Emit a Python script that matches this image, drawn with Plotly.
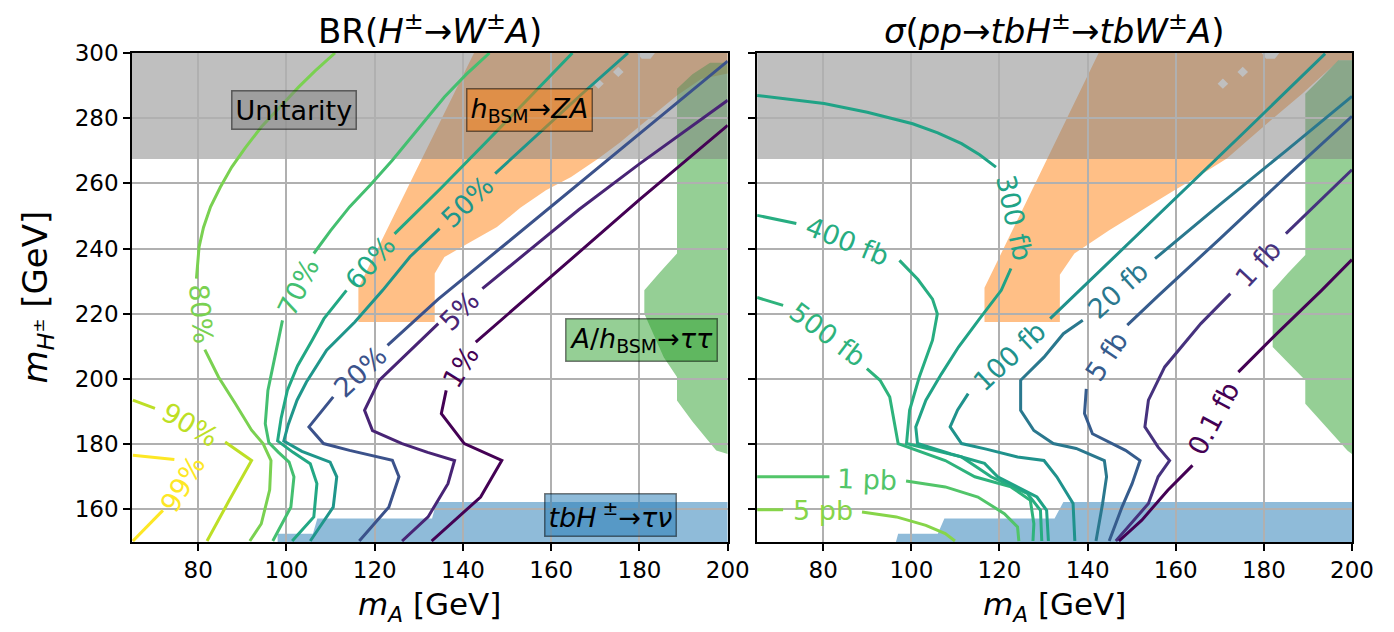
import plotly.graph_objects as go

# ---------------- axes ----------------
X_RANGE = [65, 200]
Y_RANGE = [150, 300]
x_tick_vals = [80, 100, 120, 140, 160, 180, 200]
y_tick_vals = [160, 180, 200, 220, 240, 260, 280, 300]

# ---------------- left panel: BR(H± -> W± A) contours (m_A, m_H±) ----------------
# each contour = two pieces (split where the inline label sits)
br99_a = [(65.2, 150.3), (68.6, 155.0), (72.0, 159.7)]
br99_b = [(74.6, 175.3), (70.0, 176.0), (65.2, 176.6)]

br90_a = [(65.2, 193.5), (70.2, 191.0)]
br90_b = [(86.1, 180.7), (92.1, 175.0), (87.0, 162.7), (82.0, 150.3)]

br80_a = [(111.0, 300.0), (106.5, 294.5), (102.8, 289.6), (98.5, 283.5), (94.3, 277.3), (90.7, 271.0),
          (87.6, 265.0), (85.0, 258.8), (82.8, 252.8), (81.2, 246.5), (80.2, 240.5), (79.6, 230.8)]
br80_b = [(81.5, 209.0), (84.6, 200.6), (88.4, 192.5), (92.1, 184.3), (94.7, 180.2), (96.5, 175.0),
          (96.2, 166.0), (94.3, 155.6), (91.7, 150.3)]

br70_a = [(146.0, 300.0), (140.8, 293.5), (135.8, 286.5), (130.0, 277.0), (124.0, 267.1), (119.0, 259.5),
          (114.3, 252.8), (110.0, 245.5), (106.2, 238.5)]
br70_b = [(99.1, 218.0), (97.3, 206.7), (95.8, 196.5), (95.2, 186.3), (96.0, 180.5), (98.2, 177.5),
          (100.6, 174.5), (101.7, 170.0), (101.0, 160.7), (96.9, 150.3)]

br60_a = [(124.5, 244.5), (135.0, 258.5), (145.0, 272.3), (155.0, 286.2), (164.8, 300.0)]
br60_b = [(113.6, 227.2), (108.5, 218.5), (105.8, 211.8), (102.5, 204.0), (100.2, 196.5), (98.8, 188.0),
          (98.0, 181.0), (101.5, 177.5), (105.4, 174.0), (106.9, 167.9), (106.2, 157.7), (101.3, 150.3)]

br50_a = [(147.3, 263.0), (157.0, 275.0), (167.0, 287.5), (177.4, 300.0)]
br50_b = [(134.7, 246.1), (128.0, 237.5), (121.8, 227.2), (115.5, 217.5), (109.1, 208.8), (104.5, 199.0),
          (102.4, 193.5), (100.4, 186.0), (99.4, 181.0), (103.5, 177.8), (109.9, 174.5), (111.4, 170.0),
          (110.6, 160.7), (105.4, 150.3)]

br20_a = [(122.9, 210.3), (134.4, 224.5), (150.0, 241.8), (165.0, 258.5), (181.0, 276.3), (200.0, 297.5)]
br20_b = [(110.6, 194.5), (105.1, 185.3), (108.4, 180.2), (114.3, 178.1), (124.0, 175.1), (125.5, 170.0),
          (123.2, 160.7), (116.5, 150.3)]

br5_a = [(144.4, 227.7), (155.0, 239.5), (166.3, 252.0), (180.0, 266.0), (200.0, 285.5)]
br5_b = [(134.4, 217.0), (127.5, 208.0), (121.0, 199.6), (117.7, 190.4), (119.5, 184.2), (126.2, 180.2),
         (132.0, 177.5), (138.1, 175.0), (136.6, 167.9), (132.1, 157.7), (126.2, 150.3)]

br1_a = [(142.9, 211.3), (153.7, 224.1), (165.0, 237.5), (180.0, 255.0), (200.0, 277.8)]
br1_b = [(136.2, 196.5), (135.1, 189.4), (140.3, 180.2), (148.8, 175.0), (144.0, 163.8), (132.9, 150.3)]

br_levels = ["99%", "90%", "80%", "70%", "60%", "50%", "20%", "5%", "1%"]
br_pieces = [(br99_a, br99_b), (br90_a, br90_b), (br80_a, br80_b), (br70_a, br70_b), (br60_a, br60_b),
             (br50_a, br50_b), (br20_a, br20_b), (br5_a, br5_b), (br1_a, br1_b)]
# inline label anchor on the contour (m_A, m_H±) and text rotation
br_label_at = [(76.6, 167.8, -59), (78.1, 185.9, 30), (80.6, 220.0, 85), (102.6, 228.2, -64),
               (119.0, 235.8, -49), (141.0, 254.5, -44), (116.7, 202.4, -43), (139.2, 221.0, -45),
               (139.5, 203.9, -58)]

# ---------------- right panel: sigma(pp -> tbH± -> tbW± A) contours ----------------
xs5pb_a = [(65.0, 159.9), (70.9, 159.9)]
xs5pb_b = [(88.8, 159.2), (96.6, 157.7), (103.3, 155.1), (107.7, 152.6), (109.9, 150.3)]

xs1pb_a = [(65.0, 170.0), (81.4, 170.0)]
xs1pb_b = [(98.8, 168.7), (107.7, 166.9), (115.1, 163.8), (121.1, 158.7), (124.1, 154.6), (124.4, 150.3)]

xs500_a = [(65.0, 225.0), (70.9, 222.6)]
xs500_b = [(89.9, 203.2), (92.9, 199.6), (95.1, 194.5), (96.2, 186.3), (97.0, 180.2), (107.7, 175.0),
           (114.4, 170.0), (122.6, 166.9), (127.0, 162.8), (127.8, 155.6), (127.6, 150.3)]

xs400_a = [(65.0, 250.2), (73.9, 247.7)]
xs400_b = [(97.3, 236.4), (101.5, 230.5), (104.8, 224.5), (105.9, 220.0), (104.8, 211.9), (101.8, 200.6),
           (99.6, 190.4), (98.9, 180.2), (111.4, 176.1), (118.1, 170.0), (126.3, 164.9), (129.3, 159.7),
           (129.6, 150.3)]

xs300_a = [(65.0, 287.0), (80.2, 284.5), (90.0, 281.8), (100.3, 278.3), (106.0, 275.5), (111.4, 272.2),
           (115.5, 268.8), (119.2, 265.0)]
xs300_b = [(122.6, 233.9), (121.5, 230.5), (120.4, 227.2), (115.5, 218.5), (110.7, 209.8), (106.8, 201.5),
           (103.3, 193.5), (101.0, 185.3), (101.4, 180.2), (109.0, 177.0), (116.6, 174.1), (119.6, 170.0),
           (128.5, 163.8), (130.7, 159.7), (131.1, 150.3)]

xs100_a = [(131.5, 218.5), (145.0, 236.0), (160.0, 255.5), (175.0, 275.0), (193.9, 299.8)]
xs100_b = [(112.9, 195.5), (110.5, 190.5), (108.8, 185.3), (111.4, 180.2), (117.0, 178.5), (124.1, 176.1),
           (130.1, 175.0), (133.0, 170.0), (136.7, 161.8), (137.1, 150.3)]

xs20_a = [(155.3, 236.9), (170.0, 253.5), (185.0, 270.0), (200.0, 286.7)]
xs20_b = [(138.9, 218.0), (134.5, 213.9), (130.1, 206.7), (124.8, 199.6), (124.8, 190.4), (127.8, 184.2),
          (132.2, 180.2), (137.4, 178.7), (143.8, 175.0), (144.3, 170.0), (143.4, 161.8), (141.9, 150.3)]

xs5_a = [(149.0, 216.5), (156.0, 225.5), (170.0, 243.0), (185.0, 262.0), (200.0, 280.6)]
xs5_b = [(139.7, 197.0), (139.3, 189.4), (141.1, 183.2), (148.6, 178.1), (151.9, 175.0), (150.1, 167.9),
         (147.8, 160.7), (144.9, 150.3)]

xs1_a = [(185.0, 244.6), (192.0, 253.8), (200.0, 264.2)]
xs1_b = [(172.4, 226.2), (165.7, 217.0), (157.5, 203.7), (153.8, 193.5), (153.0, 185.3), (156.0, 179.1),
         (158.6, 175.0), (156.0, 170.0), (153.8, 161.8), (148.6, 153.6), (146.4, 150.3)]

xs01_a = [(174.2, 202.1), (183.0, 214.0), (193.1, 227.2), (200.0, 236.6)]
xs01_b = [(163.8, 173.5), (158.2, 165.9), (152.3, 156.7), (147.1, 150.3)]

xs_levels = ["5 pb", "1 pb", "500 fb", "400 fb", "300 fb", "100 fb", "20 fb", "5 fb", "1 fb", "0.1 fb"]
xs_pieces = [(xs5pb_a, xs5pb_b), (xs1pb_a, xs1pb_b), (xs500_a, xs500_b), (xs400_a, xs400_b),
             (xs300_a, xs300_b), (xs100_a, xs100_b), (xs20_a, xs20_b), (xs5_a, xs5_b), (xs1_a, xs1_b),
             (xs01_a, xs01_b)]
xs_label_at = [(79.9, 159.6, 0), (90.0, 169.2, 2), (81.0, 213.5, 37), (85.6, 242.2, 22), (123.3, 249.5, 78),
               (122.2, 207.0, -43), (147.0, 227.5, -42), (144.3, 206.8, -56), (178.7, 235.4, -47),
               (168.5, 188.0, -62)]

# ---------------- excluded regions (m_A, m_H±) ----------------
unitarity_min_mH = 267.5

zA_left = [(116.3, 217.5), (133.6, 217.5), (133.6, 232.4), (135.8, 237.4), (141.0, 241.5), (147.7, 246.6),
           (153.0, 252.5), (158.8, 257.9), (164.5, 262.0), (170.7, 267.6), (175.5, 272.5), (180.0, 277.5),
           (184.5, 282.5), (188.5, 287.0), (194.0, 292.0), (200.0, 293.7), (200.0, 300.0), (142.5, 300.0),
           (116.3, 228.0)]
zA_right = [(116.6, 217.5), (133.7, 217.5), (133.7, 232.0), (137.0, 238.5), (144.9, 245.6), (152.0, 251.5),
            (159.7, 257.9), (165.5, 262.5), (171.6, 267.6), (177.0, 274.0), (183.0, 281.0), (188.7, 287.5),
            (195.4, 295.7), (197.0, 297.8), (200.0, 297.8), (200.0, 300.0), (142.5, 300.0), (116.6, 228.0)]
zA_holes = [[(175.2, 295.8), (176.4, 294.2), (175.2, 292.6), (174.0, 294.2)],
            [(170.7, 292.2), (171.9, 290.6), (170.7, 289.0), (169.5, 290.6)],
            [(179.5, 300.0), (183.5, 300.0), (182.5, 298.2), (180.5, 298.2)]]

tautau_left = [(188.5, 289.0), (192.0, 293.5), (196.0, 297.0), (200.0, 297.0), (200.0, 177.0), (197.4, 178.1),
               (192.0, 187.0), (188.5, 193.4), (188.5, 200.6), (185.5, 206.7), (181.1, 220.0), (181.1, 227.2),
               (184.5, 232.5), (188.5, 238.5)]
tautau_right = [(189.4, 287.5), (193.2, 292.6), (196.9, 297.8), (200.0, 297.8), (200.0, 177.0), (199.0, 178.0),
                (194.0, 185.5), (189.4, 192.4), (189.4, 199.6), (185.5, 205.0), (182.0, 209.8), (182.0, 227.2),
                (185.5, 232.5), (189.4, 238.0)]

taunu_left = [(98.0, 150.0), (98.0, 152.5), (106.0, 152.5), (107.0, 157.2), (133.0, 157.2), (134.0, 162.3),
              (200.0, 162.3), (200.0, 150.0)]
taunu_right = [(96.5, 150.0), (97.0, 152.5), (106.0, 152.5), (107.5, 157.2), (132.5, 157.2), (134.5, 162.3),
               (200.0, 162.3), (200.0, 150.0)]

# ---------------- text ----------------
title_left = "BR(<i>H</i><sup>±</sup>→<i>W</i><sup>±</sup><i>A</i>)"
title_right = "<i>σ</i>(<i>pp</i>→<i>tbH</i><sup>±</sup>→<i>tbW</i><sup>±</sup><i>A</i>)"
xlabel = "<i>m<sub>A</sub></i> [GeV]"
ylabel = "<i>m<sub>H<sup>±</sup></sub></i> [GeV]"
box_texts = ["Unitarity", "<i>h</i><sub>BSM</sub>→<i>ZA</i>", "<i>A</i>/<i>h</i><sub>BSM</sub>→<i>ττ</i>",
             "<i>tbH</i><sup> ±</sup>→<i>τν</i>"]
box_at = [(101.8, 282.4), (155.0, 282.4), (180.4, 211.9), (173.4, 158.4)]

# ---------------- styles ----------------
FONT = "DejaVu Sans"
br_colors = ["#fde725", "#bddf26", "#7ad151", "#44bf70", "#22a884", "#1f968b", "#3b528b", "#482475", "#440154"]
xs_colors = ["#86d549", "#52c569", "#2eb37c", "#27ad81", "#20a386", "#1f928c", "#2a788e", "#365c8d",
             "#46327e", "#440154"]
GREY = "rgba(127,127,127,0.5)"
ORANGE = "rgba(255,127,14,0.5)"
GREEN = "rgba(44,160,44,0.5)"
BLUE = "rgba(31,119,180,0.5)"
box_fill = [GREY, ORANGE, GREEN, BLUE]

fig = go.Figure()


def joined(pieces):
    xs, ys = [], []
    for seg in pieces:
        if xs:
            xs.append(None)
            ys.append(None)
        xs += [p[0] for p in seg]
        ys += [p[1] for p in seg]
    return xs, ys


def path(pts):
    return "M " + " L ".join(f"{x},{y}" for x, y in pts) + " Z"


shapes = []
for xr, yr, zA, tt, tn in [("x", "y", zA_left, tautau_left, taunu_left),
                           ("x2", "y2", zA_right, tautau_right, taunu_right)]:
    shapes.append(dict(type="path", path=path(zA), xref=xr, yref=yr, fillcolor=ORANGE,
                       line=dict(width=0), layer="below"))
    shapes.append(dict(type="path", path=path(tt), xref=xr, yref=yr, fillcolor=GREEN,
                       line=dict(width=0), layer="below"))
    shapes.append(dict(type="path", path=path(tn), xref=xr, yref=yr, fillcolor=BLUE,
                       line=dict(width=0), layer="below"))
    shapes.append(dict(type="rect", x0=X_RANGE[0], x1=X_RANGE[1], y0=unitarity_min_mH, y1=Y_RANGE[1],
                       xref=xr, yref=yr, fillcolor=GREY, line=dict(width=0), layer="below"))
    for h in zA_holes:
        shapes.append(dict(type="path", path=path(h), xref=xr, yref=yr, fillcolor="#bfbfbf",
                           line=dict(width=0), layer="below"))

annotations = []
for levels, pieces, label_at, colors, xr, yr in [
        (br_levels, br_pieces, br_label_at, br_colors, "x", "y"),
        (xs_levels, xs_pieces, xs_label_at, xs_colors, "x2", "y2")]:
    for lev, pcs, (lx, ly, ang), col in zip(levels, pieces, label_at, colors):
        xs, ys = joined(pcs)
        fig.add_trace(go.Scatter(x=xs, y=ys, mode="lines", line=dict(color=col, width=3),
                                 xaxis=xr, yaxis=yr, showlegend=False, hoverinfo="skip"))
        annotations.append(dict(x=lx, y=ly, xref=xr, yref=yr, text=lev, showarrow=False,
                                xanchor="center", yanchor="middle", textangle=ang,
                                font=dict(family=FONT, size=27, color=col)))

for txt, (bx, by), fc in zip(box_texts, box_at, box_fill):
    annotations.append(dict(x=bx, y=by, xref="x", yref="y", text=txt, showarrow=False,
                            xanchor="center", yanchor="middle",
                            font=dict(family=FONT, size=27, color="black"), bgcolor=fc,
                            bordercolor="rgba(0,0,0,0.5)", borderwidth=1.5, borderpad=3))

# titles and axis labels (paper coords relative to the plotting area)
annotations += [
    dict(x=0.244, y=1.0495, xref="paper", yref="paper", text=title_left, showarrow=False,
         font=dict(family=FONT, size=34, color="black"), xanchor="center", yanchor="middle"),
    dict(x=0.756, y=1.0495, xref="paper", yref="paper", text=title_right, showarrow=False,
         font=dict(family=FONT, size=34, color="black"), xanchor="center", yanchor="middle"),
    dict(x=0.244, y=-0.1315, xref="paper", yref="paper", text=xlabel, showarrow=False,
         font=dict(family=FONT, size=31, color="black"), xanchor="center", yanchor="middle"),
    dict(x=0.756, y=-0.1315, xref="paper", yref="paper", text=xlabel, showarrow=False,
         font=dict(family=FONT, size=31, color="black"), xanchor="center", yanchor="middle"),
    dict(x=-0.0778, y=0.5, xref="paper", yref="paper", text=ylabel,
         showarrow=False, textangle=-90, font=dict(family=FONT, size=34, color="black"),
         xanchor="center", yanchor="middle"),
]

axis_common = dict(range=X_RANGE, tickvals=x_tick_vals, showgrid=True, gridcolor="#b0b0b0", gridwidth=1.5,
                   showline=True, linecolor="black", linewidth=1.5, mirror=True, ticks="outside",
                   ticklen=7, tickwidth=1.5, tickcolor="black", zeroline=False,
                   tickfont=dict(family=FONT, size=23, color="black"))
yaxis_common = dict(axis_common, range=Y_RANGE, tickvals=y_tick_vals)

# the page body adds an 8px margin, so the figure is sized to sit fully inside the window
fig.update_layout(
    width=1370, height=620,
    margin=dict(l=124, r=4, t=45, b=86),
    paper_bgcolor="white", plot_bgcolor="white",
    xaxis=dict(axis_common, domain=[0, 0.4883], anchor="y"),
    yaxis=dict(yaxis_common, domain=[0, 1], anchor="x"),
    xaxis2=dict(axis_common, domain=[0.5124, 1], anchor="y2"),
    yaxis2=dict(yaxis_common, domain=[0, 1], anchor="x2", showticklabels=False),
    shapes=shapes, annotations=annotations,
)

fig.write_html("out.html")
